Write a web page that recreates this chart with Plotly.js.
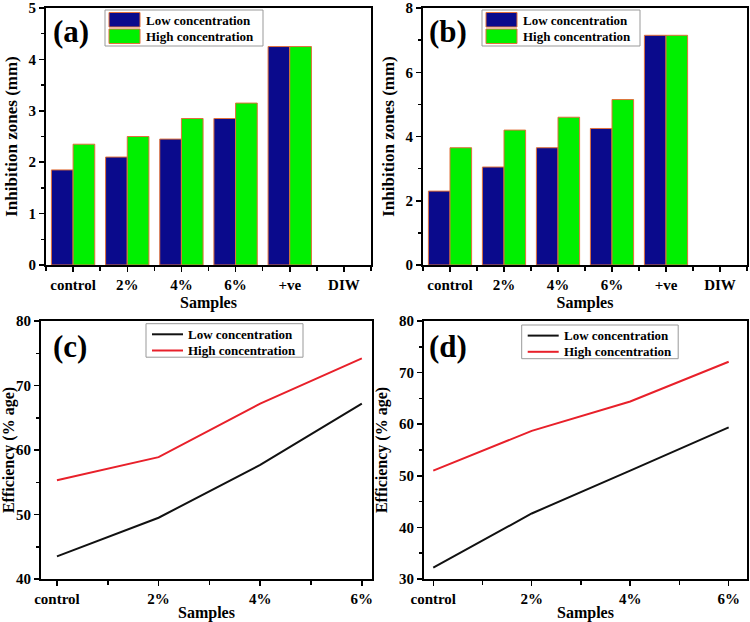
<!DOCTYPE html>
<html>
<head>
<meta charset="utf-8">
<script src="https://cdn.plot.ly/plotly-3.0.1.min.js"></script>
<style>html,body{margin:0;padding:0;background:#fff;}#chart{width:750px;height:622px;}</style>
</head>
<body>
<div id="chart"></div>
<script>
// ---- data ----
const barCats = ['control', '2%', '4%', '6%', '+ve', 'DIW'];
const aLow  = [1.85, 2.10, 2.45, 2.85, 4.25, 0];
const aHigh = [2.35, 2.50, 2.85, 3.15, 4.25, 0];
const bLow  = [2.30, 3.05, 3.65, 4.25, 7.15, 0];
const bHigh = [3.65, 4.20, 4.60, 5.15, 7.15, 0];
const lineCats = ['control', '2%', '4%', '6%'];
const cLow  = [43.5, 49.5, 57.7, 67.2];
const cHigh = [55.3, 58.9, 67.2, 74.2];
const dLow  = [32.2, 42.7, 51.0, 59.4];
const dHigh = [51.0, 58.7, 64.4, 72.1];
const seriesNames = ['Low concentration', 'High concentration'];
const panelLabels = ['(a)', '(b)', '(c)', '(d)'];

// ---- style ----
const W = 750, H = 622;
const FF = 'Liberation Serif, Times New Roman, serif';
const BLUE = '#0a0a8c', GREEN = '#00f000', EDGE = '#e0703a';
const BLACK = '#111111', RED = '#e8202a';
const px = x => x / W;
const py = y => 1 - y / H;

const barIdx = barCats.map((_, i) => i);
const lineIdx = lineCats.map((_, i) => i);

function barTrace(y, name, color, xa, ya) {
  return {type: 'bar', x: barIdx, y: y, name: name, xaxis: xa, yaxis: ya, showlegend: false,
    marker: {color: color, line: {color: EDGE, width: y.map(v => v > 0 ? 1 : 0)}}};
}
function lineTrace(y, name, color, xa, ya) {
  return {type: 'scatter', mode: 'lines', x: lineIdx, y: y, name: name, xaxis: xa, yaxis: ya,
    showlegend: false, line: {color: color, width: 2}};
}

const data = [
  barTrace(aLow, seriesNames[0], BLUE, 'x', 'y'),
  barTrace(aHigh, seriesNames[1], GREEN, 'x', 'y'),
  barTrace(bLow, seriesNames[0], BLUE, 'x2', 'y2'),
  barTrace(bHigh, seriesNames[1], GREEN, 'x2', 'y2'),
  lineTrace(cLow, seriesNames[0], BLACK, 'x3', 'y3'),
  lineTrace(cHigh, seriesNames[1], RED, 'x3', 'y3'),
  lineTrace(dLow, seriesNames[0], BLACK, 'x4', 'y4'),
  lineTrace(dHigh, seriesNames[1], RED, 'x4', 'y4')
];

const tickFont = {family: FF, size: 15, color: '#000', weight: 'bold'};
const titleFont = {family: FF, size: 16, color: '#000', weight: 'bold'};

function xAxis(dom, range, cats, anchor) {
  return {domain: dom, range: range, anchor: anchor, tickmode: 'array',
    tickvals: cats.map((_, i) => i), ticktext: cats,
    ticks: 'outside', ticklen: 5, tickwidth: 1.5, tickcolor: '#000',
    minor: {tickmode: 'linear', tick0: 0.5, dtick: 1, ticks: 'outside', ticklen: 4, tickwidth: 1.5, tickcolor: '#000'},
    showline: true, linewidth: 2, linecolor: '#000', mirror: true,
    showgrid: false, zeroline: false, tickfont: tickFont, ticklabeloverflow: 'allow',
    title: {text: 'Samples', font: titleFont, standoff: 5}};
}
function yAxis(dom, range, dtick, anchor, title, tsize) {
  return {domain: dom, range: range, anchor: anchor, dtick: dtick, tick0: 0,
    ticks: 'outside', ticklen: 5, tickwidth: 1.5, tickcolor: '#000',
    minor: {dtick: dtick / 2, ticks: 'outside', ticklen: 3, tickwidth: 1.5, tickcolor: '#000'},
    showline: true, linewidth: 2, linecolor: '#000', mirror: true,
    showgrid: false, zeroline: false, tickfont: tickFont, ticklabeloverflow: 'allow',
    title: {text: title, font: Object.assign({}, titleFont, {size: tsize}), standoff: 7}};
}

const domA = [px(46), px(371)], domB = [px(423), px(747)];
const domC = [px(41), px(372)], domD = [px(424), px(747)];
const domTop = [py(265), py(8)], domBot = [py(579), py(321)];

const shapes = [], annotations = [];
const legFont = {family: FF, size: 13, color: '#000', weight: 'bold'};
// legend for bar panels (swatch rectangles + text)
function barLegend(left, top) {
  shapes.push({type: 'rect', xref: 'paper', yref: 'paper', x0: px(left), x1: px(left + 158),
    y0: py(top), y1: py(top + 36), line: {color: '#999', width: 1}, fillcolor: '#fff', layer: 'above'});
  const cols = [BLUE, GREEN];
  for (let i = 0; i < 2; i++) {
    const t = top + 2.5 + i * 16.5;
    shapes.push({type: 'rect', xref: 'paper', yref: 'paper', x0: px(left + 4), x1: px(left + 35),
      y0: py(t), y1: py(t + 14.5), line: {color: EDGE, width: 1}, fillcolor: cols[i], layer: 'above'});
    annotations.push({xref: 'paper', yref: 'paper', x: px(left + 39), y: py(t + 7.5),
      xanchor: 'left', yanchor: 'middle', showarrow: false, text: seriesNames[i], font: legFont});
  }
}
// legend for line panels (line segments + text)
function lineLegend(left, top, w, h) {
  shapes.push({type: 'rect', xref: 'paper', yref: 'paper', x0: px(left), x1: px(left + w),
    y0: py(top), y1: py(top + h), line: {color: '#999', width: 1}, fillcolor: '#fff', layer: 'above'});
  const cols = [BLACK, RED];
  for (let i = 0; i < 2; i++) {
    const yy = top + 10.6 + i * 16.2;
    shapes.push({type: 'line', xref: 'paper', yref: 'paper', x0: px(left + 6), x1: px(left + 37),
      y0: py(yy), y1: py(yy), line: {color: cols[i], width: 2}, layer: 'above'});
    annotations.push({xref: 'paper', yref: 'paper', x: px(left + 40), y: py(yy),
      xanchor: 'left', yanchor: 'middle', showarrow: false, text: seriesNames[i], font: legFont});
  }
}
barLegend(105, 10);
barLegend(482, 10);
lineLegend(146, 323.7, 157, 33.5);
lineLegend(521.7, 325, 156.5, 33.7);

const labelPos = [[70.5, 31], [448, 31], [69.5, 346], [448, 346]];
panelLabels.forEach((t, i) => annotations.push({xref: 'paper', yref: 'paper',
  x: px(labelPos[i][0]), y: py(labelPos[i][1]), xanchor: 'center', yanchor: 'middle',
  showarrow: false, text: t, font: {family: FF, size: 31, color: '#000', weight: 'bold'}}));

const layout = {
  width: W, height: H, margin: {l: 0, r: 0, t: 0, b: 0},
  paper_bgcolor: '#fff', plot_bgcolor: '#fff',
  barmode: 'group', bargap: 0.2, bargroupgap: 0, showlegend: false,
  font: {family: FF, color: '#000'},
  xaxis: xAxis(domA, [-0.5, 5.5], barCats, 'y'),
  yaxis: yAxis(domTop, [0, 5], 1, 'x', 'Inhibition zones (mm)', 17),
  xaxis2: xAxis(domB, [-0.5, 5.5], barCats, 'y2'),
  yaxis2: yAxis(domTop, [0, 8], 2, 'x2', 'Inhibition zones (mm)', 17),
  xaxis3: xAxis(domC, [-0.157, 3.1], lineCats, 'y3'),
  yaxis3: yAxis(domBot, [40, 80], 10, 'x3', 'Efficiency (% age)', 16),
  xaxis4: xAxis(domD, [-0.094, 3.186], lineCats, 'y4'),
  yaxis4: yAxis(domBot, [30, 80], 10, 'x4', 'Efficiency (% age)', 16),
  shapes: shapes, annotations: annotations
};

Plotly.newPlot('chart', data, layout, {staticPlot: true, displayModeBar: false});
</script>
</body>
</html>
